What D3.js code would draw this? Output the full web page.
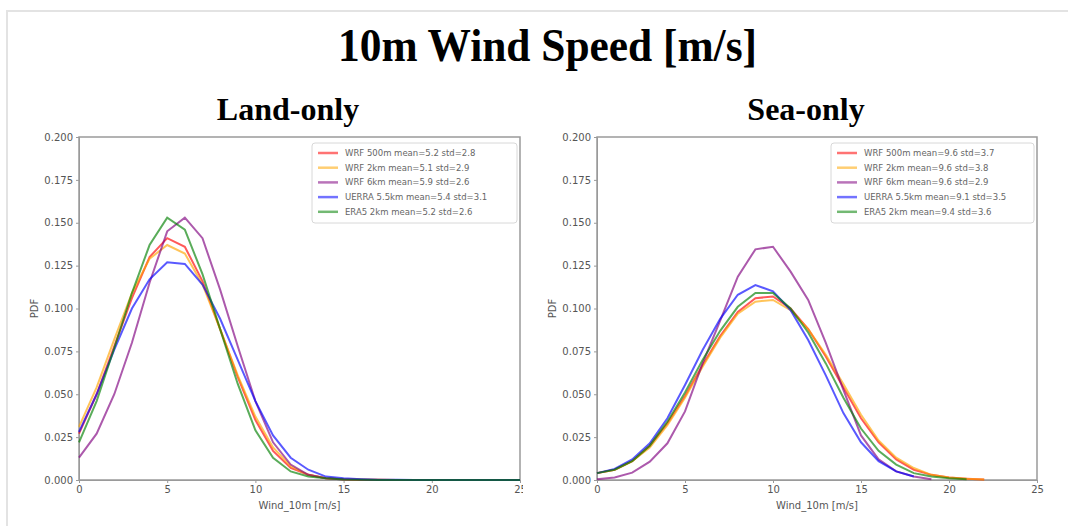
<!DOCTYPE html>
<html>
<head>
<meta charset="utf-8">
<script src="https://cdn.jsdelivr.net/npm/d3@7"></script>
<style>
  body { margin: 0; background: #fff; }
  .axis text { font-family: "DejaVu Sans", sans-serif; font-size: 10px; fill: #555; }
  .axis path, .axis line { stroke: #9a9a9a; }
</style>
</head>
<body>
<div id="chart"></div>
<script>
// wind speed bins (m/s)
let windBins = d3.range(0, 26);
let xTicks = [0, 5, 10, 15, 20, 25];
let yTicks = [0, 0.025, 0.05, 0.075, 0.1, 0.125, 0.15, 0.175, 0.2];

let seriesNames = ['WRF 500m', 'WRF 2km', 'WRF 6km', 'UERRA 5.5km', 'ERA5 2km'];
let seriesColors = ['#ff0000', '#ffa500', '#800080', '#0000ff', '#008000'];

// Land-only PDFs
let landWrf500 = [0.027, 0.050, 0.078, 0.106, 0.130, 0.141, 0.136, 0.116, 0.088, 0.060, 0.035, 0.017, 0.007, 0.003, 0.001, 0.0004, 0.0002, 0.0001, 0, 0, 0, 0, 0, 0, 0, 0];
let landWrf2k = [0.031, 0.054, 0.082, 0.109, 0.129, 0.137, 0.132, 0.114, 0.088, 0.061, 0.037, 0.019, 0.008, 0.003, 0.001, 0.0004, 0.0002, 0.0001, 0, 0, 0, 0, 0, 0, 0, 0];
let landWrf6k = [0.013, 0.027, 0.050, 0.080, 0.115, 0.145, 0.153, 0.141, 0.111, 0.078, 0.046, 0.022, 0.009, 0.003, 0.001, 0.0003, 0.0001, 0, 0, 0, 0, 0, 0, 0, 0, 0];
let landUerra = [0.028, 0.050, 0.076, 0.100, 0.117, 0.127, 0.126, 0.114, 0.094, 0.070, 0.046, 0.026, 0.013, 0.006, 0.002, 0.001, 0.0005, 0.0002, 0.0001, 0, 0, 0, 0, 0, 0, 0];
let landEra5 = [0.022, 0.046, 0.077, 0.109, 0.137, 0.153, 0.146, 0.120, 0.088, 0.056, 0.029, 0.013, 0.005, 0.002, 0.001, 0.0003, 0.0001, 0, 0, 0, 0, 0, 0, 0, 0, 0];
let landStats = ['mean=5.2 std=2.8', 'mean=5.1 std=2.9', 'mean=5.9 std=2.6', 'mean=5.4 std=3.1', 'mean=5.2 std=2.6'];

// Sea-only PDFs (lines stop where the model has no more data)
let seaWrf500 = [0.004, 0.006, 0.011, 0.020, 0.033, 0.049, 0.067, 0.084, 0.098, 0.106, 0.107, 0.100, 0.088, 0.072, 0.054, 0.036, 0.022, 0.012, 0.006, 0.003, 0.0015, 0.0008, 0.0003];
let seaWrf2k = [0.004, 0.006, 0.011, 0.019, 0.032, 0.048, 0.066, 0.083, 0.097, 0.104, 0.105, 0.099, 0.088, 0.073, 0.056, 0.038, 0.023, 0.013, 0.007, 0.003, 0.0015, 0.0007, 0.0003];
let seaWrf6k = [0.0005, 0.0015, 0.0043, 0.0107, 0.0214, 0.040, 0.068, 0.093, 0.1186, 0.1345, 0.136, 0.1215, 0.105, 0.080, 0.0525, 0.026, 0.012, 0.005, 0.002, 0.0005];
let seaUerra = [0.004, 0.0065, 0.012, 0.0214, 0.036, 0.0554, 0.0758, 0.094, 0.108, 0.1137, 0.110, 0.099, 0.0816, 0.061, 0.039, 0.022, 0.011, 0.005, 0.002];
let seaEra5 = [0.004, 0.006, 0.011, 0.020, 0.034, 0.051, 0.070, 0.087, 0.101, 0.109, 0.109, 0.100, 0.086, 0.068, 0.048, 0.030, 0.017, 0.009, 0.004, 0.002, 0.001, 0.0005];
let seaStats = ['mean=9.6 std=3.7', 'mean=9.6 std=3.8', 'mean=9.6 std=2.9', 'mean=9.1 std=3.5', 'mean=9.4 std=3.6'];

let w = 1068, h = 526;

let svg = d3.select('#chart')
    .append('svg')
    .attr('width', w)
    .attr('height', h)
    .style('background', '#fff');

// faint frame of the slide image
svg.append('path')
    .attr('d', 'M7,' + h + 'V11H' + w)
    .attr('fill', 'none')
    .attr('stroke', '#e3e3e3')
    .attr('stroke-width', 2);

// title is a narrow serif in the original, so squeeze it a bit
svg.append('text')
    .attr('x', 338)
    .attr('y', 61)
    .attr('textLength', 419)
    .attr('lengthAdjust', 'spacingAndGlyphs')
    .style('font-family', '"Liberation Serif", serif')
    .style('font-weight', 'bold')
    .style('font-size', '46px')
    .text('10m Wind Speed [m/s]');

function drawPanel(opts) {
    let g = svg.append('g');

    let xScale = d3.scaleLinear()
        .domain([0, 25])
        .range([opts.left, opts.right]);
    let yScale = d3.scaleLinear()
        .domain([0, 0.2])
        .range([480, 137]);

    // subtitle
    svg.append('text')
        .attr('x', opts.titleX)
        .attr('y', 120)
        .attr('text-anchor', 'middle')
        .style('font-family', '"Liberation Serif", serif')
        .style('font-weight', 'bold')
        .style('font-size', '32px')
        .text(opts.title);

    // box spines
    g.append('rect')
        .attr('x', opts.left)
        .attr('y', yScale(0.2))
        .attr('width', opts.right - opts.left)
        .attr('height', yScale(0) - yScale(0.2))
        .attr('fill', 'none')
        .attr('stroke', '#9a9a9a')
        .attr('stroke-width', 1.5);

    let xAxis = d3.axisBottom(xScale)
        .tickValues(xTicks)
        .tickSize(3);
    let yAxis = d3.axisLeft(yScale)
        .tickValues(yTicks)
        .tickFormat(d3.format('.3f'))
        .tickSize(3);

    g.append('g')
        .attr('class', 'axis')
        .attr('transform', 'translate(0,' + yScale(0) + ')')
        .call(xAxis);
    g.append('g')
        .attr('class', 'axis')
        .attr('transform', 'translate(' + opts.left + ',0)')
        .call(yAxis);

    g.append('text')
        .attr('x', (opts.left + opts.right) / 2)
        .attr('y', 509)
        .attr('text-anchor', 'middle')
        .style('font-family', '"DejaVu Sans", sans-serif')
        .style('font-size', '10px')
        .style('fill', '#555')
        .text('Wind_10m [m/s]');
    g.append('text')
        .attr('transform', 'translate(' + (opts.left - 41) + ',' + yScale(0.1) + ') rotate(-90)')
        .attr('text-anchor', 'middle')
        .style('font-family', '"DejaVu Sans", sans-serif')
        .style('font-size', '10px')
        .style('fill', '#555')
        .text('PDF');

    let line = d3.line()
        .x((d, i) => xScale(windBins[i]))
        .y((d) => yScale(d));

    opts.series.forEach((s, i) => {
        g.append('path')
            .datum(s)
            .attr('fill', 'none')
            .attr('stroke', seriesColors[i])
            .attr('stroke-opacity', 0.65)
            .attr('stroke-width', 2)
            .attr('d', line);
    });

    // legend
    let lg = g.append('g')
        .attr('transform', 'translate(' + opts.legendX + ',143)');
    lg.append('rect')
        .attr('width', opts.legendW)
        .attr('height', 80)
        .attr('rx', 3)
        .attr('fill', '#fff')
        .attr('stroke', '#d8d8d8');
    seriesNames.forEach((name, i) => {
        let yy = 10 + i * 14.7;
        lg.append('line')
            .attr('x1', 6).attr('x2', 26)
            .attr('y1', yy).attr('y2', yy)
            .attr('stroke', seriesColors[i])
            .attr('stroke-opacity', 0.55)
            .attr('stroke-width', 2.5);
        lg.append('text')
            .attr('x', 33)
            .attr('y', yy + 3)
            .style('font-family', '"DejaVu Sans", sans-serif')
            .style('font-size', '8.5px')
            .style('fill', '#666')
            .text(name + ' ' + opts.stats[i]);
    });
    return g;
}

let landPanel = drawPanel({
    title: 'Land-only', titleX: 288, left: 79, right: 520,
    series: [landWrf500, landWrf2k, landWrf6k, landUerra, landEra5],
    stats: landStats, legendX: 312, legendW: 205
});
// the left picture is cropped just right of its frame
svg.append('clipPath').attr('id', 'leftClip')
    .append('rect').attr('x', 0).attr('y', 0).attr('width', 523).attr('height', h);
landPanel.attr('clip-path', 'url(#leftClip)');

drawPanel({
    title: 'Sea-only', titleX: 806, left: 597, right: 1037,
    series: [seaWrf500, seaWrf2k, seaWrf6k, seaUerra, seaEra5],
    stats: seaStats, legendX: 831, legendW: 203
});
</script>
</body>
</html>
